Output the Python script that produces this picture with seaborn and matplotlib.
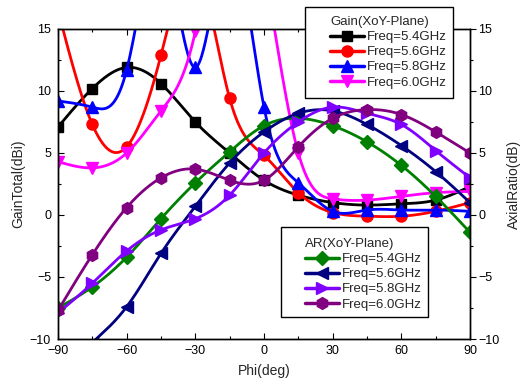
import numpy as np
import pandas as pd
import matplotlib
matplotlib.use("Agg")
import matplotlib.pyplot as plt
from matplotlib.lines import Line2D
from matplotlib.patches import Rectangle
from matplotlib.ticker import MultipleLocator
import seaborn as sns

# angle of the markers (deg)
phi = [-90, -75, -60, -45, -30, -15, 0, 15, 30, 45, 60, 75, 90]

# gain total (dBi), XoY plane; values above 15 run off the top of the plot
gain_54 = [7.1, 10.2, 11.9, 10.6, 7.5, 5.0, 2.8, 1.6, 1.0, 0.8, 0.9, 1.2, 2.3]
gain_56 = [16.5, 7.3, 5.5, 12.9, 20.0, 9.4, 4.8, 1.8, 0.2, -0.1, -0.1, 0.3, 1.0]
gain_58 = [9.2, 8.7, 11.7, 22.0, 11.9, 22.0, 8.7, 2.6, 0.3, 0.4, 0.4, 0.4, 0.3]
gain_60 = [4.3, 3.8, 5.0, 8.4, 14.8, 28.0, 20.0, 5.0, 1.3, 1.2, 1.5, 1.8, 1.9]

# axial ratio (dB), XoY plane
ar_54 = [-7.5, -5.8, -3.4, -0.3, 2.6, 5.1, 7.2, 7.8, 7.2, 5.9, 4.0, 1.5, -1.4]
ar_56 = [-13.0, -10.3, -7.4, -3.1, 0.7, 4.2, 6.7, 8.2, 8.4, 7.3, 5.6, 3.5, 1.0]
ar_58 = [-7.9, -5.5, -2.9, -1.2, -0.3, 1.6, 5.0, 7.5, 8.7, 8.2, 7.3, 5.2, 3.0]
ar_60 = [-7.7, -3.2, 0.6, 3.0, 3.7, 2.8, 2.8, 5.5, 7.8, 8.5, 8.1, 6.7, 5.0]

freq_labels = ["Freq=5.4GHz", "Freq=5.6GHz", "Freq=5.8GHz", "Freq=6.0GHz"]


def smooth(x, y, num=721):
    # natural cubic spline through the points, for drawing the curve
    x = np.asarray(x, float)
    y = np.asarray(y, float)
    n = len(x)
    h = np.diff(x)
    A = np.zeros((n, n))
    b = np.zeros(n)
    A[0, 0] = A[-1, -1] = 1
    for i in range(1, n - 1):
        A[i, i - 1] = h[i - 1]
        A[i, i] = 2 * (h[i - 1] + h[i])
        A[i, i + 1] = h[i]
        b[i] = 6 * ((y[i + 1] - y[i]) / h[i] - (y[i] - y[i - 1]) / h[i - 1])
    M = np.linalg.solve(A, b)
    xs = np.linspace(x[0], x[-1], num)
    k = np.clip(np.searchsorted(x, xs) - 1, 0, n - 2)
    t0 = x[k + 1] - xs
    t1 = xs - x[k]
    hk = h[k]
    ys = (M[k] * t0 ** 3 / (6 * hk) + M[k + 1] * t1 ** 3 / (6 * hk)
          + (y[k] / hk - M[k] * hk / 6) * t0 + (y[k + 1] / hk - M[k + 1] * hk / 6) * t1)
    return xs, ys


sns.set_style("ticks")
plt.rcParams['font.family'] = ['Liberation Sans', 'DejaVu Sans']
plt.rcParams['font.size'] = 9

fig = plt.figure(figsize=(5.25, 3.85), dpi=100)
ax = fig.add_axes([58 / 525, 1 - 339 / 385, 412 / 525, 310 / 385])

gain_series = [
    (gain_54, "black", "s", 7),
    (gain_56, "red", "o", 8),
    (gain_58, "blue", "^", 8.5),
    (gain_60, "magenta", "v", 8.5),
]
ar_series = [
    (ar_54, "green", "D", 7),
    (ar_56, "navy", "<", 8.5),
    (ar_58, "#8000ff", ">", 8.5),
    (ar_60, "purple", "h", 8.5),
]

gain_handles = []
ar_handles = []
for series, handles in [(gain_series, gain_handles), (ar_series, ar_handles)]:
    for (vals, color, marker, ms), label in zip(series, freq_labels):
        xs, ys = smooth(phi, vals)
        df = pd.DataFrame({"phi": xs, "val": ys})
        sns.lineplot(data=df, x="phi", y="val", color=color, lw=2, ax=ax, sort=False)
        ax.plot(phi, vals, ls="none", marker=marker, ms=ms, color=color,
                markeredgecolor=color)
        handles.append(Line2D([], [], color=color, lw=2.5, marker=marker, ms=ms,
                              markeredgecolor=color, label=label))

ax.set_xlim(-90, 90)
ax.set_ylim(-10, 15)
ax.xaxis.set_major_locator(MultipleLocator(30))
ax.xaxis.set_minor_locator(MultipleLocator(15))
ax.yaxis.set_major_locator(MultipleLocator(5))
ax.yaxis.set_minor_locator(MultipleLocator(2.5))
ax.tick_params(which="both", direction="in", top=True, right=False,
               colors="black", labelsize=9)
ax.tick_params(axis="x", pad=4)
ax.tick_params(axis="y", pad=5)
ax.tick_params(which="major", length=4, width=0.8)
ax.tick_params(which="minor", length=2.5, width=0.8)
ax.set_xlabel("Phi(deg)", fontsize=10, labelpad=5)
ax.set_ylabel("GainTotal(dBi)", fontsize=10, labelpad=3)

ax2 = ax.twinx()
ax2.set_ylim(-10, 15)
ax2.yaxis.set_major_locator(MultipleLocator(5))
ax2.yaxis.set_minor_locator(MultipleLocator(2.5))
ax2.tick_params(which="both", direction="out", colors="black", labelsize=9, pad=2)
ax2.tick_params(which="major", length=4, width=0.8)
ax2.tick_params(which="minor", length=2.5, width=0.8)
ax2.set_ylabel("AxialRatio(dB)", fontsize=10, labelpad=5)
for a in (ax, ax2):
    for s in a.spines.values():
        s.set_color("black")
        s.set_linewidth(1)

# legend boxes (white, black edge), drawn in figure coordinates
for (x0, y0, x1, y1) in [(305, 7, 453, 98), (281, 227, 428, 317)]:
    ax2.add_patch(Rectangle((x0 / 525, 1 - y1 / 385), (x1 - x0) / 525, (y1 - y0) / 385,
                            transform=fig.transFigure, facecolor="white",
                            edgecolor="black", lw=1, clip_on=False, zorder=4))

leg_kw = dict(frameon=False, fontsize=9.5, title_fontsize=9.5, handlelength=2.6,
              handletextpad=0.2, labelspacing=0.22, borderpad=0, borderaxespad=0,
              alignment="left", loc="upper left", bbox_transform=fig.transFigure)
leg1 = ax2.legend(handles=gain_handles, title="Gain(XoY-Plane)",
                  bbox_to_anchor=(330 / 525, 1 - 16 / 385), **leg_kw)
leg1.set_zorder(5)
ax2.add_artist(leg1)
leg2 = ax2.legend(handles=ar_handles, title="AR(XoY-Plane)",
                  bbox_to_anchor=(305 / 525, 1 - 238 / 385), **leg_kw)
leg2.set_zorder(5)

fig.savefig("out.png", dpi=100)
